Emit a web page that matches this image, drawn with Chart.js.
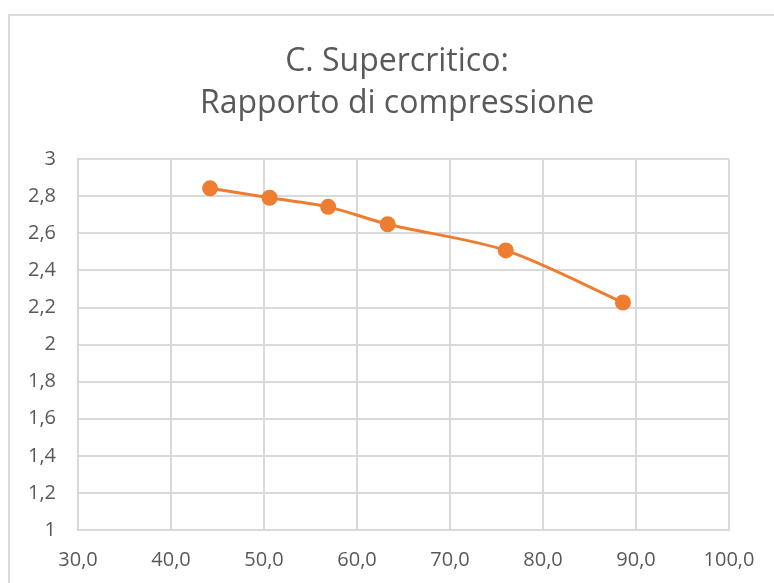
<!DOCTYPE html>
<html>
<head>
<meta charset="utf-8">
<script src="https://cdn.jsdelivr.net/npm/chart.js@4"></script>
<style>
  html, body { margin: 0; padding: 0; background: #ffffff; }
  #wrap { position: absolute; left: 0; top: 0; width: 774px; height: 583px; }
</style>
</head>
<body>
<div id="wrap"><canvas id="chart" width="774" height="583"></canvas></div>
<script>
// data
var portata = [44.2, 50.6, 56.9, 63.3, 76.0, 88.6];
var rapporto = [2.843, 2.792, 2.743, 2.649, 2.508, 2.227];
var titleLines = ['C. Supercritico:', 'Rapporto di compressione'];

var points = portata.map(function (x, i) { return { x: x, y: rapporto[i] }; });

var grey = '#d9d9d9';
var textGrey = '#595959';
var font = '"Open Sans"';

// outer frame of the chart box (cut on the right and bottom like the screenshot)
var framePlugin = {
    id: 'frame',
    afterLayout: function (chart) {
        // centre the title on the whole box, not on the padded area
        if (chart.titleBlock) {
            chart.titleBlock.left = 20;
            chart.titleBlock.right = 774;
        }
    },
    beforeDraw: function (chart) {
        var c = chart.ctx;
        c.save();
        c.fillStyle = '#ffffff';
        c.fillRect(0, 0, chart.width, chart.height);
        c.strokeStyle = grey;
        c.lineWidth = 2;
        c.strokeRect(9, 15, 900, 700);
        c.restore();
    }
};

var ctx = document.getElementById('chart').getContext('2d');
var chart = new Chart(ctx, {
    type: 'scatter',
    data: {
        datasets: [{
            data: points,
            showLine: true,
            borderColor: '#ed7d31',
            backgroundColor: '#ed7d31',
            borderWidth: 3,
            pointRadius: 6.5,
            pointHoverRadius: 6.5,
            tension: 0.3
        }]
    },
    options: {
        responsive: false,
        animation: false,
        layout: { padding: { left: 0, right: 45, top: 0, bottom: 0 } },
        plugins: {
            legend: { display: false },
            tooltip: { enabled: false },
            title: {
                display: true,
                text: titleLines,
                color: textGrey,
                font: { family: font, size: 32, weight: 'normal', lineHeight: 1.3 },
                padding: { top: 41, bottom: 35 }
            }
        },
        scales: {
            x: {
                type: 'linear',
                min: 30,
                max: 100,
                ticks: {
                    stepSize: 10,
                    color: textGrey,
                    padding: 18,
                    font: { family: font, size: 20 },
                    callback: function (v) { return v.toFixed(1).replace('.', ','); }
                },
                grid: { color: grey, lineWidth: 2, drawTicks: false },
                border: { color: grey, width: 2 },
                afterFit: function (s) { s.height = 53; }
            },
            y: {
                min: 1,
                max: 3,
                ticks: {
                    stepSize: 0.2,
                    color: textGrey,
                    padding: 22,
                    font: { family: font, size: 20 },
                    callback: function (v) { return String(Math.round(v * 10) / 10).replace('.', ','); }
                },
                grid: { color: grey, lineWidth: 2, drawTicks: false },
                border: { color: grey, width: 2 },
                afterFit: function (s) { s.width = 78; }
            }
        }
    },
    plugins: [framePlugin]
});
</script>
</body>
</html>
